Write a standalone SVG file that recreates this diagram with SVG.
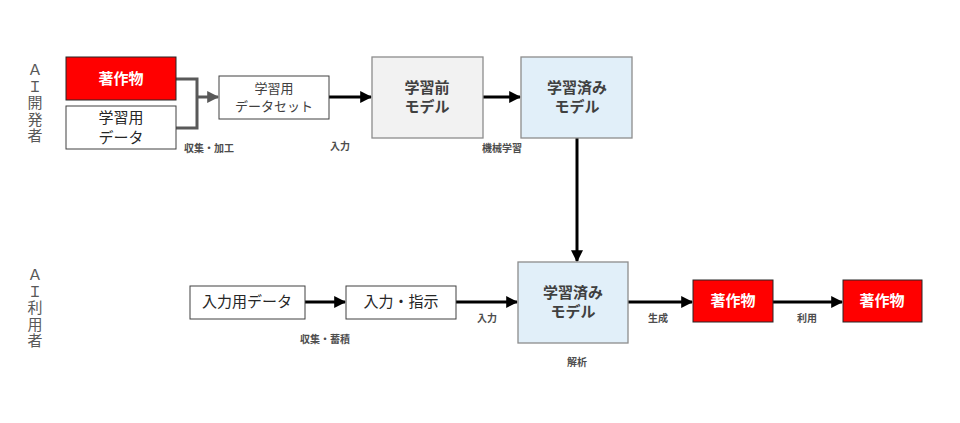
<svg xmlns="http://www.w3.org/2000/svg" width="960" height="423" viewBox="0 0 960 423">
<defs>
<marker id="ah" viewBox="0 0 10 10" refX="9" refY="5" markerWidth="4" markerHeight="4" markerUnits="strokeWidth" orient="auto"><path d="M0,0 L10,5 L0,10 z" fill="#000"/></marker>
<marker id="ahg" viewBox="0 0 10 10" refX="9" refY="5" markerWidth="4" markerHeight="4" markerUnits="strokeWidth" orient="auto"><path d="M0,0 L10,5 L0,10 z" fill="#595959"/></marker>
<style>
text{font-family:"Noto Sans CJK JP","Noto Sans",sans-serif;}
.red{fill:#ff0000;stroke:#262626;stroke-width:1;}
.wht{fill:#ffffff;stroke:#404040;stroke-width:1;}
.gry{fill:#f2f2f2;stroke:#8c8c8c;stroke-width:1.3;}
.blu{fill:#e1eff9;stroke:#8c8c8c;stroke-width:1.3;}
.rt{fill:#ffffff;font-size:15px;font-weight:bold;text-anchor:middle;}
.mt{fill:#404040;font-size:15px;font-weight:bold;text-anchor:middle;}
.nt{fill:#262626;font-size:15px;text-anchor:middle;}
.st{fill:#404040;font-size:13px;text-anchor:middle;}
.lb{fill:#4d4d4d;font-size:10px;font-weight:bold;text-anchor:middle;}
.side{fill:#595959;font-size:15px;writing-mode:vertical-rl;letter-spacing:1.5px;}
.con{fill:none;stroke:#000;stroke-width:3;}
</style>
</defs>
<rect width="960" height="423" fill="#ffffff"/>

<g id="side-dev">
<text class="side" x="35" y="62">ＡＩ開発者</text>
</g>
<g id="side-user">
<text class="side" x="35" y="267">ＡＩ利用者</text>
</g>

<g id="connectors">
<polyline points="176,79 197,79 197,128 176,128" fill="none" stroke="#595959" stroke-width="3"/>
<line x1="197" y1="97" x2="218" y2="97" stroke="#595959" stroke-width="3" marker-end="url(#ahg)"/>
<line class="con" x1="329" y1="97" x2="371" y2="97" marker-end="url(#ah)"/>
<line class="con" x1="483" y1="97" x2="520" y2="97" marker-end="url(#ah)"/>
<line class="con" x1="577" y1="138" x2="577" y2="261" marker-end="url(#ah)"/>
<line class="con" x1="305" y1="302" x2="345" y2="302" marker-end="url(#ah)"/>
<line class="con" x1="456" y1="302" x2="517" y2="302" marker-end="url(#ah)"/>
<line class="con" x1="628" y1="302" x2="692" y2="302" marker-end="url(#ah)"/>
<line class="con" x1="773" y1="302" x2="842" y2="302" marker-end="url(#ah)"/>
</g>

<g id="labels">
<text class="lb" x="209" y="152">収集・加工</text>
<text class="lb" x="340" y="150">入力</text>
<text class="lb" x="502" y="152">機械学習</text>
<text class="lb" x="325" y="343">収集・蓄積</text>
<text class="lb" x="487" y="322">入力</text>
<text class="lb" x="658" y="322">生成</text>
<text class="lb" x="807" y="322">利用</text>
<text class="lb" x="577" y="366">解析</text>
</g>

<g id="n-work1">
<rect class="red" x="66" y="57" width="110" height="43"/>
<text class="rt" x="121" y="84">著作物</text>
</g>
<g id="n-traindata">
<rect class="wht" x="66" y="106" width="110" height="43"/>
<text class="nt" x="121" y="123">学習用</text>
<text class="nt" x="121" y="143">データ</text>
</g>
<g id="n-dataset">
<rect class="wht" x="219" y="76" width="110" height="43"/>
<text class="st" x="274" y="93">学習用</text>
<text class="st" x="274" y="111">データセット</text>
</g>
<g id="n-premodel">
<rect class="gry" x="372" y="57" width="111" height="81"/>
<text class="mt" x="427" y="93">学習前</text>
<text class="mt" x="427" y="112">モデル</text>
</g>
<g id="n-trained1">
<rect class="blu" x="521" y="57" width="111" height="81"/>
<text class="mt" x="577" y="93">学習済み</text>
<text class="mt" x="577" y="112">モデル</text>
</g>
<g id="n-inputdata">
<rect class="wht" x="190" y="286" width="115" height="33"/>
<text class="nt" x="247" y="307">入力用データ</text>
</g>
<g id="n-instruction">
<rect class="wht" x="346" y="286" width="110" height="33"/>
<text class="nt" x="401" y="307">入力・指示</text>
</g>
<g id="n-trained2">
<rect class="blu" x="518" y="262" width="110" height="81"/>
<text class="mt" x="573" y="298">学習済み</text>
<text class="mt" x="573" y="317">モデル</text>
</g>
<g id="n-work2">
<rect class="red" x="693" y="280" width="80" height="42"/>
<text class="rt" x="733" y="306">著作物</text>
</g>
<g id="n-work3">
<rect class="red" x="843" y="280" width="79" height="42"/>
<text class="rt" x="882" y="306">著作物</text>
</g>
</svg>
